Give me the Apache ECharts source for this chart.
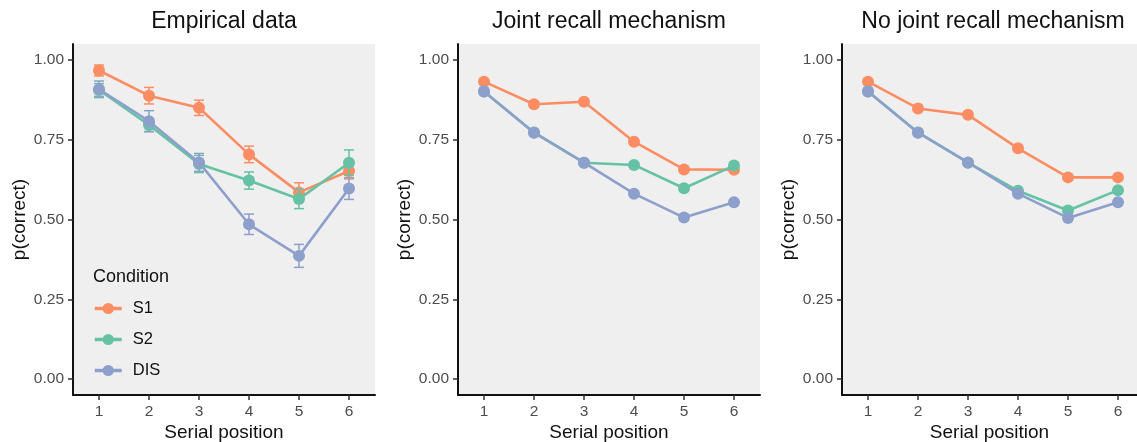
<!DOCTYPE html>
<html>
<head>
<meta charset="utf-8">
<script src="https://cdn.jsdelivr.net/npm/echarts@6/dist/echarts.min.js"></script>
<style>
html,body{margin:0;padding:0;background:#fff;}
#chart{width:1137px;height:442px;}
</style>
</head>
<body>
<div id="chart"></div>
<script>
// ---- data ----
const positions = [1, 2, 3, 4, 5, 6];
const yTicks = [0, 0.25, 0.5, 0.75, 1];
const panelTitles = ['Empirical data', 'Joint recall mechanism', 'No joint recall mechanism'];
const seriesNames = ['S1', 'S2', 'DIS'];
const seriesColors = ['#FC8D62', '#66C2A5', '#8DA0CB'];

// Empirical data
const empS1 = [0.967, 0.888, 0.850, 0.704, 0.585, 0.652];
const empS2 = [0.906, 0.796, 0.674, 0.622, 0.564, 0.678];
const empDIS = [0.908, 0.808, 0.679, 0.485, 0.386, 0.597];
const empS1Err = [0.017, 0.026, 0.024, 0.026, 0.030, 0.025];
const empS2Err = [0.020, 0.020, 0.027, 0.027, 0.030, 0.040];
const empDISErr = [0.026, 0.033, 0.028, 0.032, 0.036, 0.034];

// Joint recall mechanism
const jointS1 = [0.932, 0.861, 0.869, 0.744, 0.657, 0.656];
const jointS2 = [0.901, 0.773, 0.678, 0.671, 0.598, 0.669];
const jointDIS = [0.901, 0.772, 0.678, 0.581, 0.506, 0.554];

// No joint recall mechanism
const noJointS1 = [0.932, 0.848, 0.828, 0.723, 0.632, 0.632];
const noJointS2 = [0.901, 0.773, 0.678, 0.590, 0.528, 0.592];
const noJointDIS = [0.901, 0.772, 0.679, 0.581, 0.505, 0.554];

const panelData = [
  [empS1, empS2, empDIS],
  [jointS1, jointS2, jointDIS],
  [noJointS1, noJointS2, noJointDIS]
];
const panelErr = [[empS1Err, empS2Err, empDISErr], null, null];

// ---- layout ----
const gridLefts = [73, 458, 842];
const gridWidths = [302, 302, 295];
const xMins = [0.48, 0.48, 0.48];
const xMaxs = [6.52, 6.52, 6.38];   // last panel is cut by the picture's right edge
const gridTop = 44, gridH = 351;
const FONT = '"Liberation Sans", Arial, sans-serif';

const grids = [], xAxes = [], yAxes = [], titles = [], series = [];
gridLefts.forEach((left, i) => {
  grids.push({left: left, top: gridTop, width: gridWidths[i], height: gridH, show: true,
    backgroundColor: '#EFEFEF', borderWidth: 0, containLabel: false, outerBoundsMode: 'none'});
  titles.push({text: panelTitles[i], left: left + 146, top: 5, textAlign: 'center',
    textStyle: {fontFamily: FONT, fontSize: 23, fontWeight: 'normal', color: '#111'}});
  xAxes.push({type: 'value', gridIndex: i, min: xMins[i], max: xMaxs[i],
    name: 'Serial position', nameLocation: 'middle', nameGap: 28, nameMoveOverlap: false,
    nameTextStyle: {fontFamily: FONT, fontSize: 19, color: '#111'},
    axisLine: {onZero: false, lineStyle: {color: '#111', width: 2}},
    axisTick: {show: true, length: 5, lineStyle: {color: '#333', width: 1.5}, customValues: positions},
    axisLabel: {fontFamily: FONT, fontSize: 15.5, color: '#4D4D4D', margin: 9, customValues: positions,
      formatter: v => String(v)},
    splitLine: {show: false}});
  yAxes.push({type: 'value', gridIndex: i, min: -0.05, max: 1.05,
    name: 'p(correct)', nameLocation: 'middle', nameGap: 44, nameRotate: 90, nameMoveOverlap: false,
    nameTextStyle: {fontFamily: FONT, fontSize: 19, color: '#111'},
    axisLine: {show: true, onZero: false, lineStyle: {color: '#111', width: 2}},
    axisTick: {show: true, length: 5, lineStyle: {color: '#333', width: 1.5}, customValues: yTicks},
    axisLabel: {fontFamily: FONT, fontSize: 15.5, color: '#4D4D4D', margin: 9, customValues: yTicks,
      formatter: v => v.toFixed(2)},
    splitLine: {show: false}});

  seriesNames.forEach((name, s) => {
    const vals = panelData[i][s];
    const color = seriesColors[s];
    if (panelErr[i]) {
      const errs = panelErr[i][s];
      series.push({
        type: 'custom', name: name + ' error', xAxisIndex: i, yAxisIndex: i, z: 2 + s * 2,
        encode: {x: 0, y: [1, 2]},
        data: positions.map((p, k) => [p, vals[k] - errs[k], vals[k] + errs[k]]),
        renderItem: function (params, api) {
          const x = api.value(0);
          const lo = api.coord([x, api.value(1)]);
          const hi = api.coord([x, api.value(2)]);
          const hw = api.size([0.2, 0])[0] / 2;
          const st = {stroke: color, lineWidth: 1.5, fill: null};
          return {type: 'group', children: [
            {type: 'line', shape: {x1: lo[0], y1: lo[1], x2: hi[0], y2: hi[1]}, style: st},
            {type: 'line', shape: {x1: lo[0] - hw, y1: lo[1], x2: lo[0] + hw, y2: lo[1]}, style: st},
            {type: 'line', shape: {x1: hi[0] - hw, y1: hi[1], x2: hi[0] + hw, y2: hi[1]}, style: st}
          ]};
        },
        silent: true
      });
    }
    series.push({
      type: 'line', name: name, xAxisIndex: i, yAxisIndex: i, z: 3 + s * 2,
      data: positions.map((p, k) => [p, vals[k]]),
      symbol: 'circle', symbolSize: 12, showSymbol: true,
      lineStyle: {color: color, width: 2.6},
      itemStyle: {color: color, borderWidth: 0},
      emphasis: {disabled: true},
      animation: false
    });
  });
});

titles.push({text: 'Condition', left: 88, top: 263,
  textStyle: {fontFamily: FONT, fontSize: 18, fontWeight: 'normal', color: '#111'}});

const chart = echarts.init(document.getElementById('chart'), null, {renderer: 'canvas'});
chart.setOption({
  animation: false,
  title: titles,
  grid: grids,
  xAxis: xAxes,
  yAxis: yAxes,
  legend: {
    data: seriesNames, orient: 'vertical', left: 88, top: 295,
    itemWidth: 27, itemHeight: 14, itemGap: 14,
    lineStyle: {width: 3.5},
    textStyle: {fontFamily: FONT, fontSize: 16.5, lineHeight: 16, color: '#111', padding: [0, 0, 0, 6]},
    selectedMode: false
  },
  series: series
});
</script>
</body>
</html>
